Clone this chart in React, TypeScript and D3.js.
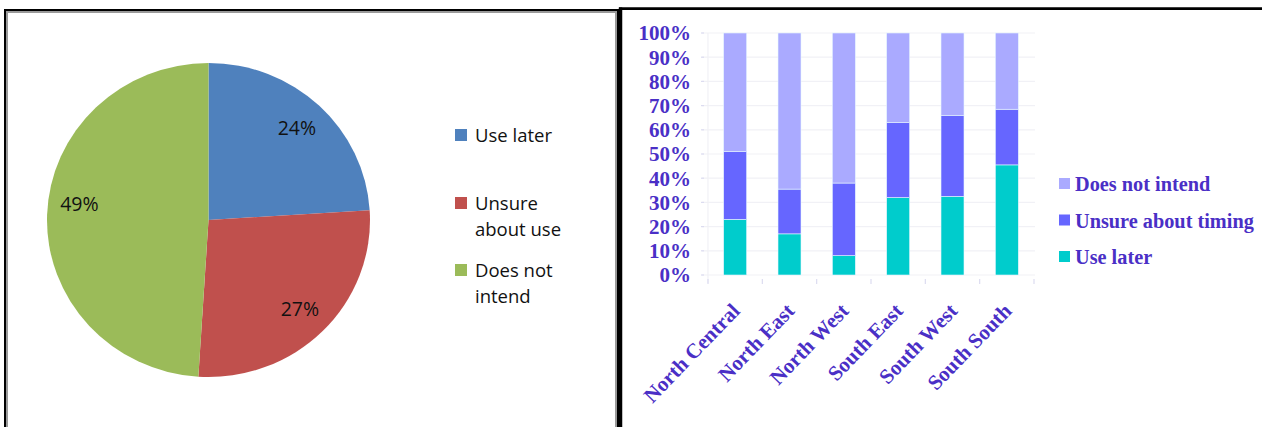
import React from "react";
import * as d3 from "d3";

// Pie: overall intention to use
const pieLabels = ["Use later", "Unsure about use", "Does not intend"];
const pieValues = [24, 27, 49];
const pieColors = ["#4F81BD", "#C0504D", "#9BBB59"];
const pieLegendLines = [["Use later"], ["Unsure", "about use"], ["Does not", "intend"]];

// Stacked bars: intention by region (percent)
const regions = ["North Central", "North East", "North West", "South East", "South West", "South South"];
const useLater = [23, 17, 8, 32, 32.5, 45.5];
const unsureTiming = [28, 18.5, 30, 31, 33.5, 23];
const doesNotIntend = regions.map((_, i) => 100 - useLater[i] - unsureTiming[i]);
const seriesNames = ["Use later", "Unsure about timing", "Does not intend"];
const seriesColors = ["#00CCCC", "#6666FF", "#AAAAFF"];
const yTicks = [0, 10, 20, 30, 40, 50, 60, 70, 80, 90, 100];

const TEXT_PURPLE = "#4A2FC6";

function PiePanel() {
  const cx = 208.5;
  const cy = 220;
  const R = 159;
  const sx = 161.5 / R;
  const sy = 157 / R;
  const pie = d3.pie<number>().sort(null).startAngle(0).endAngle(2 * Math.PI);
  const arcs = pie(pieValues);
  const arc = d3.arc<d3.PieArcDatum<number>>().innerRadius(0).outerRadius(R);
  const labelArc = d3.arc<d3.PieArcDatum<number>>().innerRadius(R * 0.8).outerRadius(R * 0.8);
  const legendY = [135, 203, 270];
  return (
    <g>
      {/* panel frame */}
      <rect x={5} y={10} width={613} height={430} fill="none" stroke="#000" strokeWidth={2} />
      <rect x={7} y={12} width={609} height={430} fill="none" stroke="#9a9a9a" strokeWidth={2} />
      <g transform={`translate(${cx},${cy}) scale(${sx},${sy})`}>
        {arcs.map((a, i) => (
          <path key={i} d={arc(a) || ""} fill={pieColors[i]} />
        ))}
      </g>
      {arcs.map((a, i) => {
        const [lx, ly] = labelArc.centroid(a);
        return (
          <text
            key={i}
            x={cx + lx * sx}
            y={cy + ly * sy - (i === 2 ? 12 : 0)}
            dy="0.36em"
            textAnchor="middle"
            fontFamily="'Open Sans', sans-serif"
            fontSize={19.5}
            fill="#111"
          >
            {`${pieValues[i]}%`}
          </text>
        );
      })}
      {pieLabels.map((name, i) => (
        <g key={name}>
          <rect x={455} y={legendY[i] - 6} width={12} height={12} fill={pieColors[i]} />
          {pieLegendLines[i].map((line, j) => (
            <text
              key={j}
              x={475}
              y={legendY[i] + j * 26}
              dy="0.36em"
              fontFamily="'Open Sans', sans-serif"
              fontSize={18.5}
              fill="#111"
            >
              {line}
            </text>
          ))}
        </g>
      ))}
    </g>
  );
}

function BarPanel() {
  const x = d3
    .scaleBand<string>()
    .domain(regions)
    .range([708, 1034])
    .paddingInner(0.577)
    .paddingOuter(0.2885);
  const y = d3.scaleLinear().domain([0, 100]).range([275, 33]);
  const rows = regions.map((r, i) => ({
    region: r,
    "Use later": useLater[i],
    "Unsure about timing": unsureTiming[i],
    "Does not intend": doesNotIntend[i],
  }));
  const stack = d3.stack<any>().keys(seriesNames);
  const layers = stack(rows);
  const step = x.step();
  const font = "'Liberation Serif', 'Times New Roman', serif";
  return (
    <g>
      {/* panel frame */}
      <line x1={620.5} y1={7.5} x2={620.5} y2={427} stroke="#000" strokeWidth={3.5} />
      <line x1={619} y1={8.7} x2={1262} y2={8.7} stroke="#000" strokeWidth={2.8} />
      {/* grid */}
      {yTicks.map((t) => (
        <g key={t}>
          <line x1={702} x2={1035} y1={y(t)} y2={y(t)} stroke="#f1f1f6" strokeWidth={1.2} />
          <line x1={701} x2={704} y1={y(t)} y2={y(t)} stroke="#dcdcf0" strokeWidth={1.2} />
        </g>
      ))}
      <line x1={708} x2={708} y1={y(100)} y2={y(0) + 8} stroke="#f1f1f6" strokeWidth={1.2} />
      {d3.range(regions.length + 1).map((k) => (
        <line
          key={k}
          x1={708 + k * step}
          x2={708 + k * step}
          y1={y(0) + 4}
          y2={y(0) + 9}
          stroke="#dcdcf0"
          strokeWidth={1.2}
        />
      ))}
      {/* stacked bars */}
      {layers.map((layer, li) => (
        <g key={layer.key} fill={seriesColors[li]}>
          {layer.map((d, i) => (
            <rect
              key={i}
              x={x(regions[i])!}
              y={y(d[1])}
              width={x.bandwidth()}
              height={y(d[0]) - y(d[1])}
              stroke="#e6f6ff"
              strokeWidth={0.6}
            />
          ))}
        </g>
      ))}
      {/* y axis labels */}
      {yTicks.map((t) => (
        <text
          key={t}
          x={691}
          y={y(t)}
          dy="0.35em"
          textAnchor="end"
          fontFamily={font}
          fontWeight="bold"
          fontSize={21}
          fill={TEXT_PURPLE}
        >
          {`${t}%`}
        </text>
      ))}
      {/* category labels */}
      {regions.map((r) => {
        const cxr = x(r)! + x.bandwidth() / 2 + 6;
        const cyr = 312;
        return (
          <text
            key={r}
            x={cxr}
            y={cyr}
            textAnchor="end"
            transform={`rotate(-46,${cxr},${cyr})`}
            fontFamily={font}
            fontWeight="bold"
            fontSize={21}
            fill={TEXT_PURPLE}
          >
            {r}
          </text>
        );
      })}
      {/* legend */}
      {[2, 1, 0].map((si, k) => {
        const ly = 184 + k * 36.5;
        return (
          <g key={si}>
            <rect x={1059} y={ly - 6} width={11} height={11} fill={seriesColors[si]} />
            <text
              x={1075}
              y={ly}
              dy="0.35em"
              fontFamily={font}
              fontWeight="bold"
              fontSize={20.3}
              fill={TEXT_PURPLE}
            >
              {seriesNames[si]}
            </text>
          </g>
        );
      })}
    </g>
  );
}

export default function App() {
  return (
    <svg
      width={1262}
      height={427}
      style={{ position: "absolute", left: 0, top: 0, background: "#fff" }}
    >
      <rect width={1262} height={427} fill="#fff" />
      <PiePanel />
      <BarPanel />
    </svg>
  );
}
